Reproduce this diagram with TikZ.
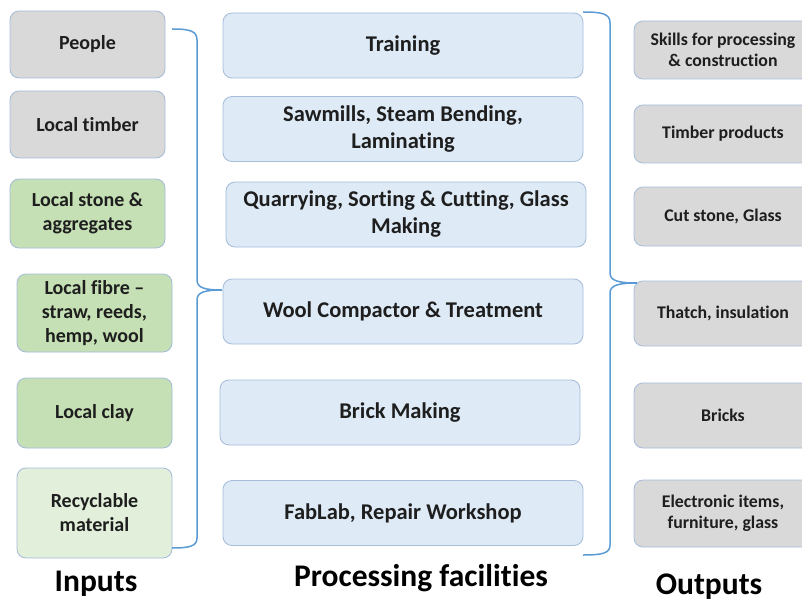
\documentclass[tikz,border=0pt]{standalone}
\usepackage{fontspec}
\setmainfont[Ligatures=NoCommon]{Carlito}
\usetikzlibrary{positioning}

\definecolor{boxgray}{HTML}{D9D9D9}
\definecolor{boxgreen}{HTML}{C5E0B4}
\definecolor{boxlightgreen}{HTML}{E2EFDA}
\definecolor{boxblue}{HTML}{DEEAF6}
\definecolor{boxedge}{HTML}{A4BBDA}
\definecolor{bracecol}{HTML}{5B9BD5}
\definecolor{textdark}{HTML}{1E1E1E}

\begin{document}
\begin{tikzpicture}[x=1pt, y=-1pt,
    box/.style = {draw=boxedge, line width=0.8pt, rounded corners=9pt,
                  align=center, text=textdark, inner sep=1pt},
    inbox/.style = {box, minimum width=155pt, font=\bfseries\fontsize{20}{24}\selectfont},
    procbox/.style = {box, fill=boxblue, minimum width=360pt, minimum height=65pt,
                      font=\bfseries\fontsize{22.5}{27}\selectfont},
    outbox/.style = {box, fill=boxgray, minimum width=178pt,
                     font=\bfseries\fontsize{17.8}{21}\selectfont},
    title/.style = {text=black, font=\bfseries\fontsize{31.5}{34}\selectfont},
    brace/.style = {draw=bracecol, line width=1.5pt}]
  \useasboundingbox (0,0) rectangle (802,604);
  \clip (0,0) rectangle (802,604);

  % inputs
  \node[inbox, fill=boxgray, minimum height=67pt] (people) at (87.5,44.5) {People};
  \node[inbox, fill=boxgray, minimum height=67pt] (timber) at (87.5,124.5) {Local timber};
  \node[inbox, fill=boxgreen, minimum height=69pt] (stone) at (87.5,213.5) {Local stone \&\\aggregates};
  \node[inbox, fill=boxgreen, minimum height=78pt] (fibre) at (94.5,313) {Local fibre --\\straw, reeds,\\hemp, wool};
  \node[inbox, fill=boxgreen, minimum height=70pt] (clay) at (94.5,413) {Local clay};
  \node[inbox, fill=boxlightgreen, minimum height=90pt] (recycle) at (94.5,513) {Recyclable\\material};

  % processing facilities
  \node[procbox] (training) at (403,45.5) {Training};
  \node[procbox] (sawmill) at (403,129) {Sawmills, Steam Bending,\\Laminating};
  \node[procbox] (quarry) at (406,214.5) {Quarrying, Sorting \& Cutting, Glass\\Making};
  \node[procbox] (wool) at (403,311.5) {Wool Compactor \& Treatment};
  \node[procbox] (brick) at (400,412.5) {Brick Making};
  \node[procbox] (fablab) at (403,513) {FabLab, Repair Workshop};

  % outputs
  \node[outbox, minimum height=58pt] (skills) at (723,50) {Skills for processing\\\& construction};
  \node[outbox, minimum height=58pt] (timberprod) at (723,134) {Timber products};
  \node[outbox, minimum height=59pt] (cutstone) at (723,216.5) {Cut stone, Glass};
  \node[outbox, minimum height=65pt] (thatch) at (723,313.5) {Thatch, insulation};
  \node[outbox, minimum height=65pt] (bricks) at (723,415.5) {Bricks};
  \node[outbox, minimum height=67pt] (electronic) at (723,513.5) {Electronic items,\\furniture, glass};

  % column titles
  \node[title] (inputs) at (96,584) {Inputs};
  \node[title] (processing) at (421,578) {Processing facilities};
  \node[title] (outputs) at (709,587) {Outputs};

  % braces
  \coordinate (lb top) at (172,29);
  \coordinate (lb tip) at (222,290);
  \coordinate (lb bot) at (172,548);
  \coordinate (rb top) at (583,12);
  \coordinate (rb tip) at (637,283);
  \coordinate (rb bot) at (583,555);
  \draw[brace] (lb top) .. controls (190,29) and (197,31) .. (197,40) -- (197,280)
    .. controls (197,288) and (205,290) .. (lb tip)
    .. controls (205,290) and (197,292) .. (197,300) -- (197,538)
    .. controls (197,546) and (190,548) .. (lb bot);
  \draw[brace] (rb top) .. controls (603,12) and (610,14) .. (610,23) -- (610,273)
    .. controls (610,281) and (619,283) .. (rb tip)
    .. controls (619,283) and (610,285) .. (610,293) -- (610,545)
    .. controls (610,553) and (603,555) .. (rb bot);
\end{tikzpicture}
\end{document}
